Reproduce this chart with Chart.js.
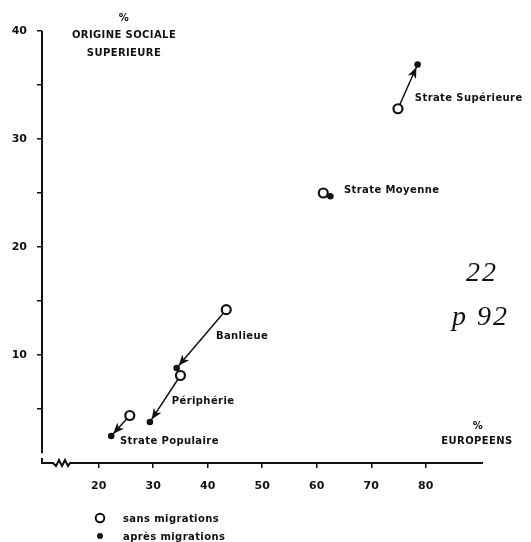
<!DOCTYPE html>
<html>
<head>
<meta charset="utf-8">
<script src="https://cdn.jsdelivr.net/npm/chart.js@4"></script>
<style>
  html, body { margin: 0; padding: 0; background: #fff; }
  #c { display: block; }
</style>
</head>
<body>
<canvas id="c" width="531" height="542"></canvas>
<script>
/**************************************************
 DATA
**************************************************/
const groups   = ["Strate Supérieure", "Strate Moyenne", "Banlieue", "Périphérie", "Strate Populaire"];
// % européens / % origine sociale supérieure
const sansX    = [74.9, 61.2, 43.4, 35.0, 25.7];   // sans migrations
const sansY    = [32.8, 25.0, 14.2, 8.1, 4.4];
const apresX   = [78.5, 62.5, 34.3, 29.4, 22.3];   // après migrations
const apresY   = [36.9, 24.7, 8.8, 3.8, 2.5];
// where each group name sits (data units)
const labelX   = [78.0, 65.0, 41.5, 33.4, 23.9];
const labelY   = [33.8, 25.2, 11.7, 5.7, 2.0];

const xTicks   = [20, 30, 40, 50, 60, 70, 80];
const yTicks   = [5, 10, 15, 20, 25, 30, 35, 40];
const yLabels  = [10, 20, 30, 40];

const INK = "#111";
const FONT = '"DejaVu Sans", Arial, sans-serif';

/**************************************************
 PLUGINS
**************************************************/
// axes with the broken-axis zigzag at the origin
const axesPlugin = {
  id: "axes",
  afterDraw(chart) {
    const {ctx, chartArea: a, scales: {x, y}} = chart;
    ctx.save();
    ctx.strokeStyle = INK;
    ctx.lineWidth = 2;
    // y axis stops just short of the origin
    ctx.beginPath();
    ctx.moveTo(a.left, y.getPixelForValue(40));
    ctx.lineTo(a.left, y.getPixelForValue(0.9));
    ctx.stroke();
    // x axis with break
    const b = a.bottom, l = a.left;
    ctx.beginPath();
    ctx.moveTo(l, b - 5);
    ctx.lineTo(l, b);
    ctx.lineTo(l + 11, b);
    ctx.lineTo(l + 14, b + 3);
    ctx.lineTo(l + 17, b - 3);
    ctx.lineTo(l + 20, b + 3);
    ctx.lineTo(l + 23, b - 3);
    ctx.lineTo(l + 26, b + 3);
    ctx.lineTo(l + 28, b);
    ctx.lineTo(x.right, b);
    ctx.stroke();
    ctx.restore();
  }
};

// arrows from "sans" to "après"
const arrowPlugin = {
  id: "arrows",
  beforeDatasetsDraw(chart) {
    const {ctx, scales: {x, y}} = chart;
    ctx.save();
    ctx.strokeStyle = INK;
    ctx.fillStyle = INK;
    ctx.lineWidth = 1.5;
    for (let i = 0; i < groups.length; i++) {
      const x0 = x.getPixelForValue(sansX[i]), y0 = y.getPixelForValue(sansY[i]);
      const x1 = x.getPixelForValue(apresX[i]), y1 = y.getPixelForValue(apresY[i]);
      const dx = x1 - x0, dy = y1 - y0;
      const len = Math.hypot(dx, dy);
      const ux = dx / len, uy = dy / len;
      ctx.beginPath();
      ctx.moveTo(x0, y0);
      ctx.lineTo(x1, y1);
      ctx.stroke();
      if (len < 15) continue;
      // head
      const tx = x1 - ux * 3, ty = y1 - uy * 3;
      const hl = 11, hw = 4.5;
      const bx = tx - ux * hl, by = ty - uy * hl;
      ctx.beginPath();
      ctx.moveTo(tx, ty);
      ctx.lineTo(bx - uy * hw, by + ux * hw);
      ctx.lineTo(bx + ux * 3, by + uy * 3);
      ctx.lineTo(bx + uy * hw, by - ux * hw);
      ctx.closePath();
      ctx.fill();
    }
    ctx.restore();
  }
};

// labels, axis titles, legend, margin notes
const textPlugin = {
  id: "texts",
  afterDraw(chart) {
    const {ctx, scales: {x, y}} = chart;
    ctx.save();
    ctx.fillStyle = INK;
    ctx.letterSpacing = "0.4px";
    ctx.font = "bold 10px " + FONT;
    ctx.textBaseline = "middle";

    ctx.textAlign = "left";
    groups.forEach((g, i) => {
      ctx.fillText(g, x.getPixelForValue(labelX[i]), y.getPixelForValue(labelY[i]));
    });

    // axis titles
    ctx.textAlign = "center";
    ctx.fillText("%", 124, 18);
    ctx.fillText("ORIGINE SOCIALE", 124, 35);
    ctx.fillText("SUPERIEURE", 124, 53);
    ctx.fillText("%", 478, 426);
    ctx.fillText("EUROPEENS", 477, 441);

    // legend
    ctx.textAlign = "left";
    ctx.fillText("sans migrations", 123, 519);
    ctx.fillText("après migrations", 123, 537);
    ctx.lineWidth = 2;
    ctx.strokeStyle = INK;
    ctx.beginPath();
    ctx.arc(100, 518, 4.3, 0, Math.PI * 2);
    ctx.stroke();
    ctx.beginPath();
    ctx.arc(100, 536, 3, 0, Math.PI * 2);
    ctx.fill();

    // handwritten note in the margin
    ctx.letterSpacing = "2px";
    ctx.font = 'italic 28px "Liberation Serif", serif';
    ctx.fillText("22", 466, 274);
    ctx.fillText("p 92", 452, 318);
    ctx.restore();
  }
};

/**************************************************
 CHART
**************************************************/
const tickFont = {family: FONT, size: 11, weight: "bold"};

new Chart(document.getElementById("c"), {
  type: "scatter",
  data: {
    datasets: [
      {
        label: "sans migrations",
        data: sansX.map((v, i) => ({x: v, y: sansY[i]})),
        pointRadius: 4.5,
        pointBorderWidth: 2.2,
        pointBackgroundColor: "#fff",
        pointBorderColor: INK
      },
      {
        label: "après migrations",
        data: apresX.map((v, i) => ({x: v, y: apresY[i]})),
        pointRadius: 3.3,
        pointBorderWidth: 0,
        pointBackgroundColor: INK,
        pointBorderColor: INK
      }
    ]
  },
  options: {
    responsive: false,
    animation: false,
    devicePixelRatio: 1,
    layout: {padding: {top: 31, right: 48, left: 0, bottom: 0}},
    plugins: {legend: {display: false}, tooltip: {enabled: false}},
    scales: {
      x: {
        type: "linear",
        min: 9.6,
        max: 90.5,
        afterBuildTicks: s => { s.ticks = xTicks.map(v => ({value: v})); },
        afterFit: s => { s.height = 79; },
        border: {display: false},
        grid: {drawOnChartArea: false, drawTicks: true, tickLength: 5, color: INK, lineWidth: 1.5},
        ticks: {color: INK, font: tickFont, padding: 12, maxRotation: 0}
      },
      y: {
        min: 0,
        max: 40,
        afterBuildTicks: s => { s.ticks = yTicks.map(v => ({value: v})); },
        afterFit: s => { s.width = 42; },
        border: {display: false},
        grid: {drawOnChartArea: false, drawTicks: true, tickLength: 5, color: INK, lineWidth: 1.5},
        ticks: {
          color: INK, font: tickFont, padding: 10,
          callback: v => yLabels.includes(v) ? String(v) : ""
        }
      }
    }
  },
  plugins: [axesPlugin, arrowPlugin, textPlugin]
});
</script>
</body>
</html>
